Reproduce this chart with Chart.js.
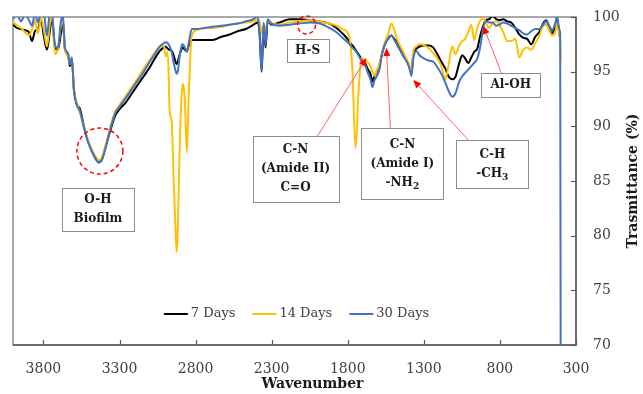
<!DOCTYPE html>
<html>
<head>
<meta charset="utf-8">
<script src="https://cdn.jsdelivr.net/npm/chart.js@4.4.1/dist/chart.umd.min.js"></script>
<style>
  html, body { margin: 0; padding: 0; background: #fff; }
  #wrap { width: 643px; height: 394px; }
</style>
</head>
<body>
<div id="wrap"><canvas id="ftirChart" width="643" height="394"></canvas></div>
<script>
// FTIR spectra (wavenumber in cm-1, transmittance in %)
const wavenumbers = [
  4000, 3974, 3948, 3921, 3895, 3875, 3856, 3836, 3816, 3797, 3777, 3757, 3744, 3724, 3705, 3685,
  3672, 3659, 3639, 3626, 3613, 3600, 3580, 3560, 3534, 3508, 3482, 3455, 3436, 3416, 3390, 3363,
  3331, 3298, 3258, 3219, 3180, 3140, 3101, 3068, 3035, 3009, 2996, 2983, 2970, 2957, 2944, 2930,
  2924, 2917, 2904, 2891, 2884, 2871, 2858, 2845, 2825, 2793, 2740, 2688, 2629, 2576, 2524, 2471,
  2419, 2392, 2379, 2366, 2353, 2340, 2327, 2300, 2248, 2182, 2117, 2051, 1985, 1920, 1874, 1835,
  1802, 1782, 1769, 1749, 1730, 1710, 1690, 1671, 1651, 1638, 1625, 1612, 1592, 1572, 1553, 1533,
  1513, 1494, 1474, 1454, 1435, 1408, 1389, 1382, 1369, 1349, 1329, 1297, 1264, 1238, 1211, 1185,
  1159, 1139, 1113, 1093, 1067, 1047, 1028, 1008, 988, 969, 949, 929, 910, 890, 870, 850,
  824, 804, 778, 752, 726, 699, 673, 647, 621, 594, 568, 542, 516, 496, 476, 457,
  437, 424, 411, 404, 400
];
const days7 = [
  99.3, 99.0, 98.9, 98.8, 98.6, 97.8, 98.7, 98.9, 99.8, 98.2, 97.0, 98.8, 99.9, 97.2, 97.0, 98.5,
  99.6, 97.1, 96.6, 95.5, 96.1, 93.5, 92.0, 91.6, 90.0, 88.7, 87.8, 87.0, 86.7, 87.0, 88.2, 89.5,
  90.9, 91.6, 92.2, 93.0, 93.8, 94.6, 95.4, 96.2, 96.9, 97.2, 97.3, 97.1, 97.0, 96.9, 96.5, 95.8,
  95.7, 95.9, 96.6, 97.1, 97.2, 97.0, 96.9, 97.4, 97.9, 97.9, 97.9, 97.9, 98.2, 98.4, 98.7, 98.9,
  99.3, 99.5, 98.5, 95.0, 99.0, 97.2, 99.6, 99.3, 99.5, 99.8, 99.8, 99.7, 99.6, 99.4, 99.0, 98.5,
  98.0, 97.6, 97.4, 97.0, 96.6, 96.2, 95.9, 95.3, 94.8, 94.1, 94.6, 94.9, 95.6, 96.8, 97.6, 98.1,
  98.3, 98.0, 97.6, 97.0, 96.5, 95.9, 95.2, 94.8, 96.6, 97.1, 97.3, 97.4, 97.4, 97.2, 96.6, 95.9,
  95.3, 94.6, 94.3, 94.5, 95.8, 96.5, 96.2, 95.8, 96.3, 96.8, 97.1, 98.3, 99.2, 99.7, 99.8, 100.1,
  99.8, 99.7, 99.8, 99.6, 99.5, 99.0, 98.4, 98.1, 98.0, 97.5, 98.2, 98.6, 99.4, 99.7, 99.0, 98.5,
  99.2, 99.8, 98.7, 98.0, null
];
const days14 = [
  99.6, 99.2, 99.0, 98.6, 98.3, 98.9, 99.6, 98.5, 99.9, 98.8, 97.3, 99.4, 100.2, 96.6, 97.1, 99.2,
  99.8, 97.0, 96.4, 95.7, 96.3, 93.4, 92.2, 91.2, 90.0, 88.8, 87.9, 87.2, 86.9, 87.2, 88.4, 89.8,
  91.3, 92.0, 92.8, 93.6, 94.4, 95.3, 96.1, 96.8, 97.3, 97.4, 96.4, 96.8, 91.3, 90.4, 85.0, 80.0,
  78.5, 80.5, 88.3, 93.0, 93.9, 92.5, 87.6, 92.9, 98.3, 98.8, 99.0, 99.0, 99.1, 99.3, 99.4, 99.5,
  99.6, 99.8, 99.5, 98.6, 99.3, 98.8, 99.6, 99.4, 99.3, 99.5, 99.6, 99.7, 99.6, 99.4, 99.2, 98.9,
  98.6, 97.5, 95.0, 88.0, 93.0, 96.3, 96.0, 95.9, 95.5, 95.0, 94.6, 95.0, 95.7, 96.8, 97.8, 98.5,
  99.4, 98.8, 97.9, 97.3, 96.8, 96.0, 95.3, 94.8, 96.9, 97.3, 97.5, 97.4, 97.1, 96.7, 96.2, 95.5,
  94.3, 95.5, 97.3, 96.6, 97.4, 97.8, 98.0, 98.6, 99.3, 97.9, 99.0, 99.7, 99.9, 99.4, 99.0, 99.4,
  99.6, 99.3, 98.6, 97.8, 97.8, 98.0, 96.3, 97.0, 97.2, 97.0, 97.6, 98.2, 99.2, 99.3, 98.8, 98.3,
  98.5, 99.5, 98.5, 97.8, 96.0
];
const days30 = [
  99.8, 100.3, 99.6, 100.2, 99.7, 99.2, 100.3, 99.5, 100.4, 100.3, 98.3, 100.4, 100.3, 97.4, 97.2, 99.6,
  100.2, 97.2, 96.7, 95.7, 96.3, 93.3, 91.9, 91.4, 89.9, 88.6, 87.7, 87.0, 86.7, 86.9, 88.1, 89.6,
  91.1, 91.8, 92.6, 93.4, 94.2, 95.0, 95.9, 96.6, 97.3, 97.6, 97.7, 97.6, 97.3, 96.8, 95.8, 95.0,
  94.8, 95.0, 96.5, 97.4, 97.5, 97.2, 96.8, 97.6, 98.9, 98.9, 99.0, 99.1, 99.2, 99.3, 99.4, 99.6,
  99.8, 100.1, 98.3, 95.1, 99.5, 97.4, 99.8, 99.4, 99.2, 99.3, 99.4, 99.5, 99.4, 99.0, 98.6, 98.1,
  97.7, 97.4, 97.2, 96.9, 96.5, 96.0, 95.8, 95.0, 94.3, 93.6, 94.2, 94.5, 95.2, 96.8, 97.6, 98.0,
  98.3, 97.9, 97.4, 96.9, 96.4, 95.8, 95.0, 94.6, 96.2, 96.9, 96.5, 96.2, 96.0, 95.9, 95.4, 94.8,
  94.0, 93.3, 92.7, 93.0, 94.1, 94.6, 94.9, 95.2, 95.5, 95.8, 96.2, 97.3, 99.0, 99.6, 99.5, 99.5,
  99.2, 99.3, 99.5, 99.4, 99.2, 99.0, 98.8, 98.5, 98.4, 98.7, 98.9, 98.9, 99.3, 99.6, 99.2, 98.8,
  99.4, 100.1, 98.9, 98.5, 60.0
];
const seriesLabels = ['7 Days', '14 Days', '30 Days'];
const seriesColors = ['#000000', '#FFC000', '#4472C4'];
const xTickValues = [3800, 3300, 2800, 2300, 1800, 1300, 800, 300];

// annotation anchors in data units (wavenumber, transmittance)
const noteCircles = [
  { wn: 3429, t: 87.74, r: 23 },
  { wn: 2071, t: 99.27, r: 9 }
];
const noteBoxes = [
  { wn: 3442, t: 82.39, w: 72, h: 43, lines: ['O-H', 'Biofilm'] },
  { wn: 2064, t: 96.94, w: 42, h: 23, lines: ['H-S'] },
  { wn: 2143, t: 86.09, w: 86, h: 66, lines: ['C-N', '(Amide II)', 'C=O'] },
  { wn: 1441, t: 86.6, w: 82, h: 71, lines: ['C-N', '(Amide I)', '-NH_2'] },
  { wn: 850, t: 86.55, w: 72, h: 48, lines: ['C-H', '-CH_3'] },
  { wn: 729, t: 93.78, w: 59, h: 24, lines: ['Al-OH'] }
];
const noteArrows = [
  { from: [1999, 89.11], to: [1677, 96.25] },
  { from: [1520, 89.84], to: [1546, 97.16] },
  { from: [1008, 88.75], to: [1369, 94.24] },
  { from: [791, 94.88], to: [909, 99.18] }
];

const SERIF = "'DejaVu Serif', 'Liberation Serif', serif";

function toPoints(values) {
  return wavenumbers.map((wn, i) => ({ x: wn, y: values[i] }));
}

const frameAndTicksPlugin = {
  id: 'frameAndTicks',
  beforeDatasetsDraw(chart) {
    const { ctx, chartArea: a, scales } = chart;
    ctx.save();
    ctx.strokeStyle = '#8c8c8c';
    ctx.lineWidth = 1.5;
    ctx.strokeRect(a.left, a.top, a.right - a.left, a.bottom - a.top);
    ctx.strokeStyle = '#595959';
    ctx.beginPath();
    ctx.moveTo(a.left, a.bottom);
    ctx.lineTo(a.right, a.bottom);
    ctx.lineTo(a.right, a.top);
    ctx.stroke();
    ctx.lineWidth = 1.2;
    xTickValues.forEach((v) => {
      const px = Math.round(scales.x.getPixelForValue(v)) + 0.5;
      ctx.beginPath();
      ctx.moveTo(px, a.bottom);
      ctx.lineTo(px, a.bottom - 5);
      ctx.stroke();
    });
    scales.y.ticks.forEach((t) => {
      const py = Math.round(scales.y.getPixelForValue(t.value)) + 0.5;
      ctx.beginPath();
      ctx.moveTo(a.right, py);
      ctx.lineTo(a.right - 5, py);
      ctx.stroke();
    });
    ctx.restore();
  },
  afterDraw(chart) {
    const { ctx, chartArea: a, width } = chart;
    ctx.save();
    ctx.fillStyle = '#1a1a1a';
    ctx.font = 'bold 14px ' + SERIF;
    ctx.textAlign = 'center';
    ctx.textBaseline = 'middle';
    ctx.fillText('Wavenumber', (a.left + a.right) / 2 + 18, 384);
    ctx.translate(width - 10, (a.top + a.bottom) / 2);
    ctx.rotate(-Math.PI / 2);
    ctx.fillText('Trasmittance (%)', 0, 0);
    ctx.restore();
  }
};

function drawNoteLine(ctx, text, cx, cy) {
  const parts = text.split('_');
  const main = parts[0];
  const sub = parts[1] || '';
  ctx.font = 'bold 12px ' + SERIF;
  const mw = ctx.measureText(main).width;
  ctx.font = 'bold 9px ' + SERIF;
  const sw = sub ? ctx.measureText(sub).width : 0;
  const start = cx - (mw + sw) / 2;
  ctx.textAlign = 'left';
  ctx.font = 'bold 12px ' + SERIF;
  ctx.fillText(main, start, cy);
  if (sub) {
    ctx.font = 'bold 9px ' + SERIF;
    ctx.fillText(sub, start + mw, cy + 4);
  }
}

const notesPlugin = {
  id: 'ftirNotes',
  afterDatasetsDraw(chart) {
    const { ctx, scales: { x, y } } = chart;
    ctx.save();
    // arrows
    noteArrows.forEach((n) => {
      const x0 = x.getPixelForValue(n.from[0]);
      const y0 = y.getPixelForValue(n.from[1]);
      const x1 = x.getPixelForValue(n.to[0]);
      const y1 = y.getPixelForValue(n.to[1]);
      const ang = Math.atan2(y1 - y0, x1 - x0);
      ctx.strokeStyle = '#ff6060';
      ctx.lineWidth = 1;
      ctx.beginPath();
      ctx.moveTo(x0, y0);
      ctx.lineTo(x1 - 6 * Math.cos(ang), y1 - 6 * Math.sin(ang));
      ctx.stroke();
      ctx.fillStyle = '#ff0000';
      ctx.beginPath();
      ctx.moveTo(x1, y1);
      ctx.lineTo(x1 - 8 * Math.cos(ang) + 3.5 * Math.sin(ang), y1 - 8 * Math.sin(ang) - 3.5 * Math.cos(ang));
      ctx.lineTo(x1 - 8 * Math.cos(ang) - 3.5 * Math.sin(ang), y1 - 8 * Math.sin(ang) + 3.5 * Math.cos(ang));
      ctx.closePath();
      ctx.fill();
    });
    // dashed circles
    ctx.strokeStyle = '#ff0000';
    ctx.lineWidth = 1.5;
    ctx.setLineDash([4, 3]);
    noteCircles.forEach((c) => {
      ctx.beginPath();
      ctx.arc(x.getPixelForValue(c.wn), y.getPixelForValue(c.t), c.r, 0, Math.PI * 2);
      ctx.stroke();
    });
    ctx.setLineDash([]);
    // label boxes
    noteBoxes.forEach((b) => {
      const cx = x.getPixelForValue(b.wn);
      const cy = y.getPixelForValue(b.t);
      const left = Math.round(cx - b.w / 2) + 0.5;
      const top = Math.round(cy - b.h / 2) + 0.5;
      ctx.fillStyle = '#ffffff';
      ctx.fillRect(left, top, b.w, b.h);
      ctx.strokeStyle = '#8c8c8c';
      ctx.lineWidth = 1;
      ctx.strokeRect(left, top, b.w, b.h);
      ctx.fillStyle = '#1a1a1a';
      ctx.textBaseline = 'middle';
      const step = 19;
      const first = cy - (step * (b.lines.length - 1)) / 2;
      b.lines.forEach((line, i) => drawNoteLine(ctx, line, cx, first + i * step));
    });
    ctx.restore();
  },
  afterDraw(chart) {
    // legend inside the plot area
    const { ctx, chartArea: a } = chart;
    ctx.save();
    ctx.font = '13px ' + SERIF;
    ctx.textBaseline = 'middle';
    ctx.textAlign = 'left';
    const lineLen = 24, gapText = 3, gapItem = 17;
    const widths = seriesLabels.map((s) => ctx.measureText(s).width);
    const total = widths.reduce((s, w) => s + lineLen + gapText + w, 0) + gapItem * (seriesLabels.length - 1);
    let px = (a.left + a.right) / 2 + 2 - total / 2;
    const py = a.bottom - 31;
    seriesLabels.forEach((label, i) => {
      ctx.strokeStyle = seriesColors[i];
      ctx.lineWidth = 2;
      ctx.beginPath();
      ctx.moveTo(px, py);
      ctx.lineTo(px + lineLen, py);
      ctx.stroke();
      ctx.fillStyle = '#404040';
      ctx.fillText(label, px + lineLen + gapText, py);
      px += lineLen + gapText + widths[i] + gapItem;
    });
    ctx.restore();
  }
};

new Chart(document.getElementById('ftirChart'), {
  type: 'line',
  data: {
    datasets: [
      { label: seriesLabels[0], data: toPoints(days7), borderColor: seriesColors[0], order: 2 },
      { label: seriesLabels[1], data: toPoints(days14), borderColor: seriesColors[1], order: 1 },
      { label: seriesLabels[2], data: toPoints(days30), borderColor: seriesColors[2], order: 0 }
    ]
  },
  options: {
    responsive: false,
    animation: false,
    devicePixelRatio: 1,
    layout: { padding: { left: 13, top: 17, right: 0, bottom: 0 } },
    elements: {
      point: { radius: 0 },
      line: { borderWidth: 2, cubicInterpolationMode: 'monotone', fill: false }
    },
    plugins: {
      legend: { display: false },
      tooltip: { enabled: false }
    },
    scales: {
      x: {
        type: 'linear',
        reverse: true,
        min: 300,
        max: 4000,
        position: 'bottom',
        afterBuildTicks: (scale) => {
          scale.ticks = xTickValues.map((v) => ({ value: v }));
        },
        afterFit: (scale) => {
          scale.height = 49;
          scale.paddingLeft = 0;
          scale.paddingRight = 0;
        },
        grid: { display: false, drawTicks: false },
        border: { display: false },
        ticks: {
          autoSkip: false,
          maxRotation: 0,
          padding: 16,
          color: '#404040',
          font: { family: SERIF, size: 14 },
          callback: (v) => String(v)
        }
      },
      y: {
        position: 'right',
        min: 70,
        max: 100,
        afterFit: (scale) => {
          scale.width = 67;
          scale.paddingTop = 0;
          scale.paddingBottom = 0;
        },
        grid: { display: false, drawTicks: false },
        border: { display: false },
        ticks: {
          stepSize: 5,
          padding: 17,
          color: '#404040',
          font: { family: SERIF, size: 14 }
        }
      }
    }
  },
  plugins: [frameAndTicksPlugin, notesPlugin]
});
</script>
</body>
</html>
